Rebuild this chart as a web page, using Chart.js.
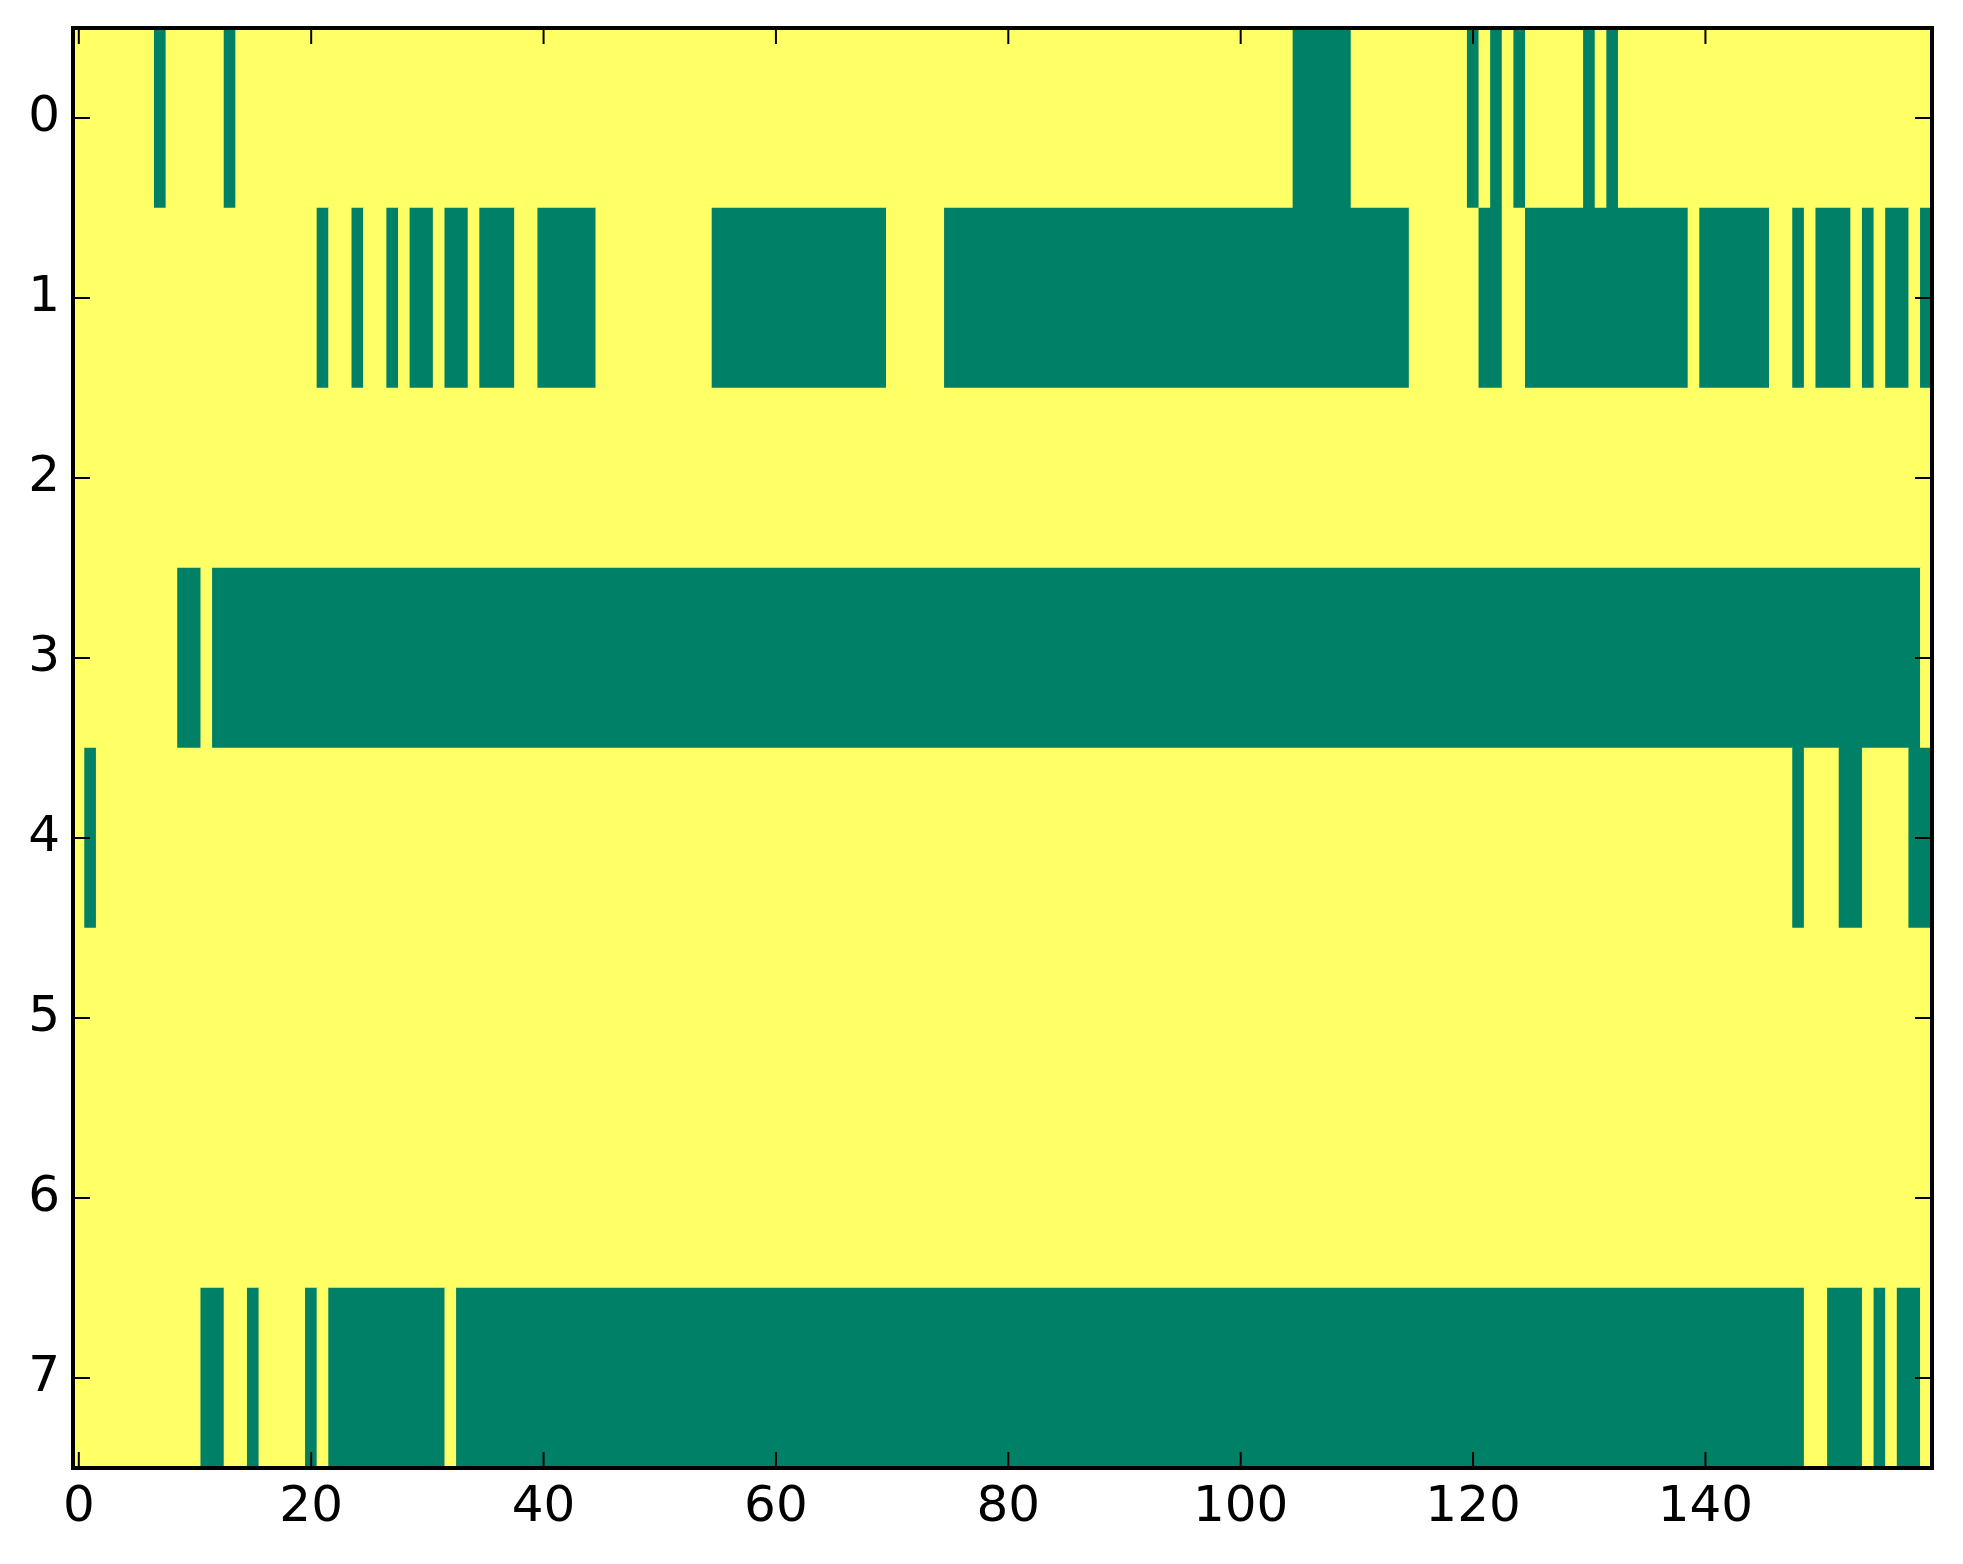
<!DOCTYPE html>
<html>
<head>
<meta charset="utf-8">
<script src="https://cdn.jsdelivr.net/npm/chart.js@4.4.0/dist/chart.umd.min.js"></script>
<style>
  html, body { margin: 0; padding: 0; background: #fff; }
  #wrap { width: 1963px; height: 1564px; }
</style>
</head>
<body>
<div id="wrap"><canvas id="heat" width="1963" height="1564"></canvas></div>
<script>
// runs of green (0) cells per row, [first, last] column, everything else is yellow (1)
let row0 = [[7, 7], [13, 13], [105, 109], [120, 120], [122, 122], [124, 124], [130, 130], [132, 132]]
let row1 = [[21, 21], [24, 24], [27, 27], [29, 30], [32, 33], [35, 37], [40, 44], [55, 69], [75, 114],
            [121, 122], [125, 138], [140, 145], [148, 148], [150, 152], [154, 154], [156, 157], [159, 159]]
let row2 = []
let row3 = [[9, 10], [12, 158]]
let row4 = [[1, 1], [148, 148], [152, 153], [158, 159]]
let row5 = []
let row6 = []
let row7 = [[11, 12], [15, 15], [20, 20], [22, 31], [33, 148], [151, 153], [155, 155], [157, 158]]

let rowLabels = ['0', '1', '2', '3', '4', '5', '6', '7']
let xTicks = [0, 20, 40, 60, 80, 100, 120, 140]
let nCols = 160

const GREEN = 'rgb(0, 128, 102)'
const YELLOW = 'rgb(255, 255, 102)'

// turn the runs into floating bars, yellow in between
let bars = []
let colors = []
;[row0, row1, row2, row3, row4, row5, row6, row7].forEach((runs, r) => {
    let pos = 0
    runs.forEach(([a, b]) => {
        if (a > pos) {
            bars.push({ y: rowLabels[r], x: [pos - 0.5, a - 0.5] })
            colors.push(YELLOW)
        }
        bars.push({ y: rowLabels[r], x: [a - 0.5, b + 0.5] })
        colors.push(GREEN)
        pos = b + 1
    })
    if (pos < nCols) {
        bars.push({ y: rowLabels[r], x: [pos - 0.5, nCols - 0.5] })
        colors.push(YELLOW)
    }
})

// matplotlib-ish frame with inward ticks on every side
const frame = {
    id: 'frame',
    afterDatasetsDraw(chart) {
        const { ctx, chartArea: a, scales: { x, y } } = chart
        ctx.save()
        ctx.strokeStyle = '#000'
        ctx.lineWidth = 2
        ctx.beginPath()
        x.ticks.forEach(t => {
            const px = x.getPixelForValue(t.value)
            ctx.moveTo(px, a.bottom); ctx.lineTo(px, a.bottom - 16)
            ctx.moveTo(px, a.top); ctx.lineTo(px, a.top + 16)
        })
        y.ticks.forEach((t, i) => {
            const py = y.getPixelForTick(i)
            ctx.moveTo(a.left, py); ctx.lineTo(a.left + 17, py)
            ctx.moveTo(a.right, py); ctx.lineTo(a.right - 17, py)
        })
        ctx.stroke()
        ctx.lineWidth = 4
        ctx.strokeRect(a.left, a.top, a.right - a.left, a.bottom - a.top)
        ctx.restore()
    }
}

const tickFont = { family: 'DejaVu Sans', size: 50 }

new Chart(document.getElementById('heat').getContext('2d'), {
    type: 'bar',
    data: {
        labels: rowLabels,
        datasets: [{
            data: bars,
            backgroundColor: colors,
            borderWidth: 0,
            barPercentage: 1,
            categoryPercentage: 1,
        }]
    },
    options: {
        indexAxis: 'y',
        responsive: false,
        animation: false,
        layout: { padding: { top: 28, right: 31, left: 0, bottom: 0 } },
        plugins: { legend: { display: false }, tooltip: { enabled: false } },
        scales: {
            x: {
                type: 'linear',
                min: -0.5,
                max: 159.5,
                afterBuildTicks: s => { s.ticks = xTicks.map(v => ({ value: v })) },
                afterFit: s => { s.height = 96; s.paddingLeft = 0; s.paddingRight = 0 },
                grid: { display: false, drawTicks: false },
                border: { display: false },
                ticks: { font: tickFont, color: '#000', padding: 10, maxRotation: 0, autoSkip: false }
            },
            y: {
                type: 'category',
                offset: true,
                afterFit: s => { s.width = 73; s.paddingTop = 0; s.paddingBottom = 0 },
                grid: { display: false, drawTicks: false },
                border: { display: false },
                ticks: { font: tickFont, color: '#000', padding: 13 }
            }
        }
    },
    plugins: [frame]
});
</script>
</body>
</html>
